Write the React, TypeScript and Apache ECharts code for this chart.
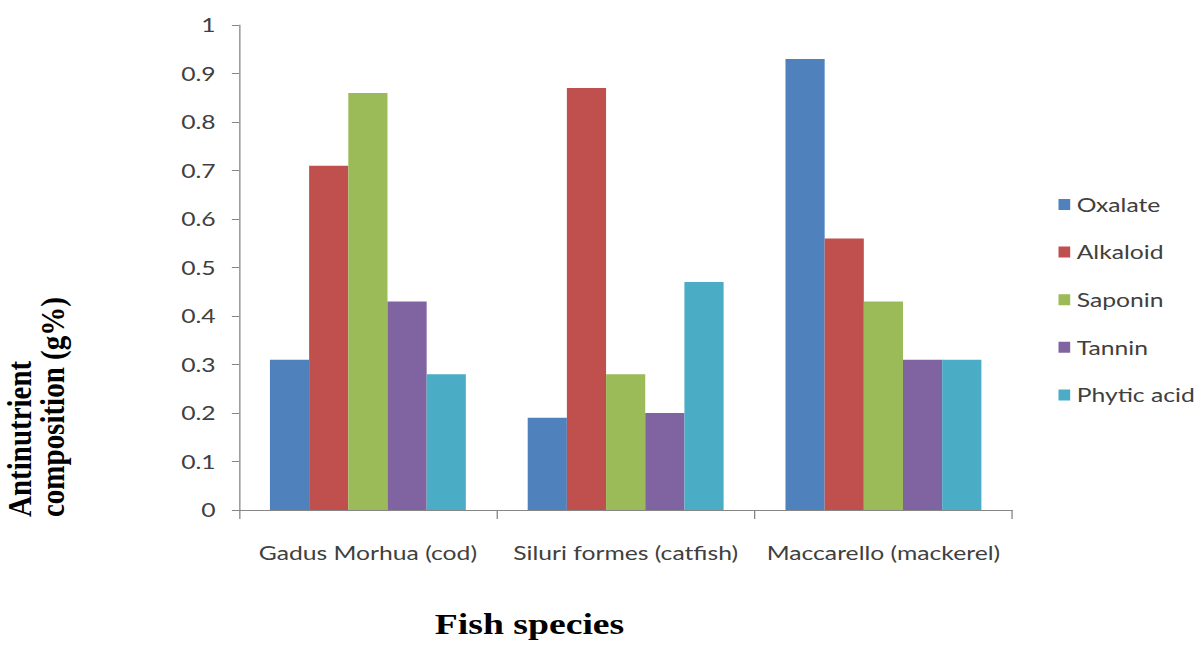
import React, { useEffect, useRef } from "react";
import * as echarts from "echarts";

// Fish species and measured antinutrient contents (g%)
const categories = ["Gadus Morhua (cod)", "Siluri formes (catfish)", "Maccarello (mackerel)"];
const oxalate = [0.31, 0.19, 0.93];
const alkaloid = [0.71, 0.87, 0.56];
const saponin = [0.86, 0.28, 0.43];
const tannin = [0.43, 0.2, 0.31];
const phyticAcid = [0.28, 0.47, 0.31];

const seriesNames = ["Oxalate", "Alkaloid", "Saponin", "Tannin", "Phytic acid"];
const seriesValues = [oxalate, alkaloid, saponin, tannin, phyticAcid];
const colors = ["#4F81BD", "#C0504D", "#9BBB59", "#8064A2", "#4BACC6"];

const yTitleLines = ["Antinutrient", "composition (g%)"];
const xTitle = "Fish species";

// The figure is laid out on a narrower canvas and widened horizontally.
const STRETCH = 1.3;
const FULL_W = 1197;
const FULL_H = 649;
const W = FULL_W / STRETCH;
const sx = (x: number) => x / STRETCH;

const labelFont = "Lato, 'Open Sans', sans-serif";
const serifFont = "'Liberation Serif', 'Times New Roman', serif";
const textColor = "#404040";
const axisColor = "#868686";

export default function App() {
  const ref = useRef<HTMLDivElement>(null);

  useEffect(() => {
    if (!ref.current) return;
    const chart = echarts.init(ref.current, undefined, { renderer: "svg" });

    const yTitle = (text: string, xOuter: number) => ({
      type: "text",
      x: sx(xOuter),
      y: 517,
      rotation: Math.PI / 2,
      scaleY: 0.9,
      style: {
        text,
        font: `bold 29px ${serifFont}`,
        fill: "#000000",
        textAlign: "left",
        textVerticalAlign: "middle",
      },
    });

    chart.setOption({
      animation: false,
      backgroundColor: "#ffffff",
      grid: {
        left: sx(239),
        right: W - sx(1012),
        top: 25,
        bottom: FULL_H - 510,
        containLabel: false,
      },
      legend: {
        orient: "vertical",
        left: sx(1052),
        top: 190,
        icon: "rect",
        itemWidth: 9,
        itemHeight: 11,
        itemGap: 28.6,
        textStyle: { fontFamily: labelFont, fontSize: 19, color: textColor, lineHeight: 19 },
        data: seriesNames,
      },
      xAxis: {
        type: "category",
        data: categories,
        axisLine: { lineStyle: { color: axisColor, width: 1 } },
        axisTick: { show: true, length: 9, lineStyle: { color: axisColor } },
        axisLabel: { fontFamily: labelFont, fontSize: 19, color: textColor, margin: 33, interval: 0 },
        splitLine: { show: false },
      },
      yAxis: {
        type: "value",
        min: 0,
        max: 1,
        interval: 0.1,
        axisLine: { show: true, lineStyle: { color: axisColor, width: 1 } },
        axisTick: { show: true, length: 5.5, lineStyle: { color: axisColor } },
        axisLabel: { fontFamily: labelFont, fontSize: 19, color: textColor, margin: 18 },
        splitLine: { show: false },
      },
      series: seriesNames.map((name, i) => ({
        name,
        type: "bar",
        data: seriesValues[i],
        barGap: "0%",
        barCategoryGap: "24%",
        itemStyle: { color: colors[i] },
      })),
      graphic: [
        yTitle(yTitleLines[0], 20),
        yTitle(yTitleLines[1], 53),
        {
          type: "text",
          x: sx(529.5),
          y: 624,
          style: {
            text: xTitle,
            font: `bold 29px ${serifFont}`,
            fill: "#000000",
            textAlign: "center",
            textVerticalAlign: "middle",
          },
        },
      ],
    });

    return () => chart.dispose();
  }, []);

  return (
    <div
      ref={ref}
      style={{
        position: "absolute",
        left: 0,
        top: 0,
        width: W,
        height: FULL_H,
        transform: `scaleX(${STRETCH})`,
        transformOrigin: "0 0",
      }}
    />
  );
}
